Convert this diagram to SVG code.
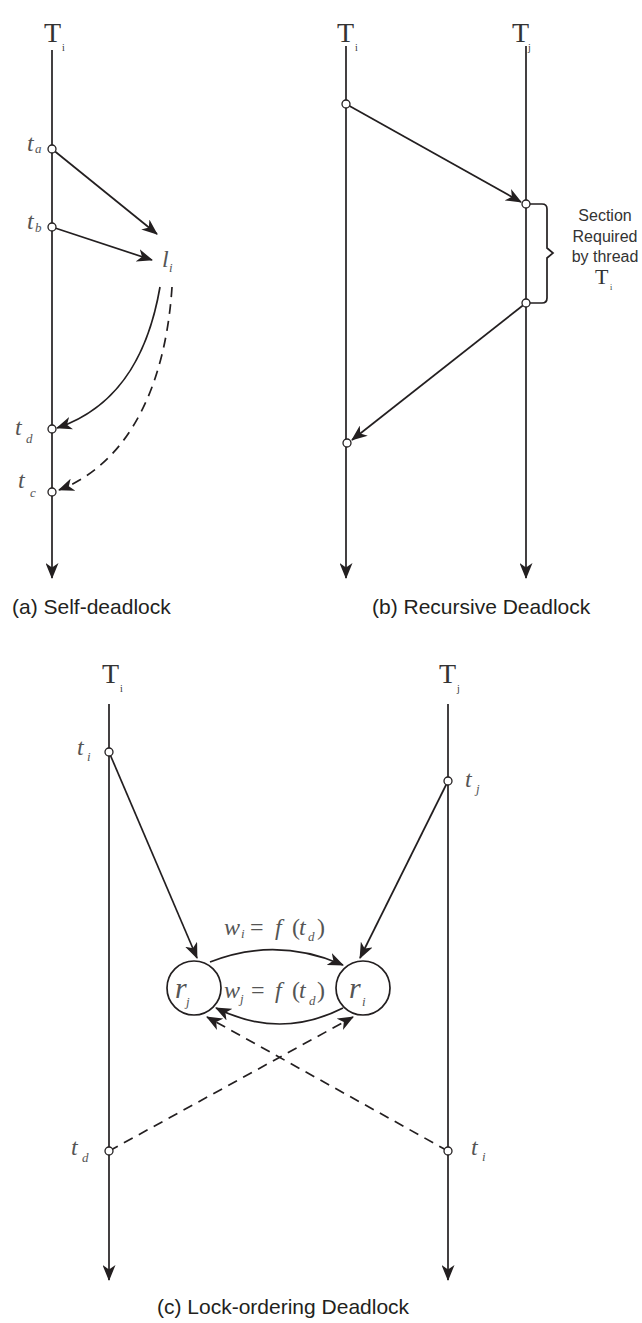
<svg xmlns="http://www.w3.org/2000/svg" width="642" height="1323" viewBox="0 0 642 1323">
<style>
.ln{fill:none;stroke:#231f20;stroke-width:1.7}
.ar{fill:none;stroke:#231f20;stroke-width:1.7;marker-end:url(#ah)}
.da{fill:none;stroke:#231f20;stroke-width:1.7;stroke-dasharray:10,7;marker-end:url(#ah)}
.pt{fill:#fff;stroke:#231f20;stroke-width:1.3}
.nd{fill:#fff;stroke:#231f20;stroke-width:1.7}
.cap{font-family:"Liberation Sans",Arial,sans-serif;font-size:21px;fill:#231f20}
.sec{font-family:"Liberation Sans",Arial,sans-serif;font-size:16px;fill:#333;text-anchor:middle}
.T{font-family:"Liberation Serif","Times New Roman",serif;font-size:28px;fill:#333}
.Ts{font-family:"Liberation Serif","Times New Roman",serif;font-size:10px;fill:#333}
.m{font-family:"Liberation Serif","Times New Roman",serif;font-style:italic;font-size:24px;fill:#555}
.ms{font-family:"Liberation Serif","Times New Roman",serif;font-style:italic;font-size:13px;fill:#555}
.mu{font-family:"Liberation Serif","Times New Roman",serif;font-size:24px;fill:#555}
</style>
<defs>
<marker id="ah" markerUnits="userSpaceOnUse" markerWidth="17" markerHeight="13" refX="15" refY="6.5" orient="auto">
<path d="M0,0 L16,6.5 L0,13 L4.5,6.5 z" fill="#231f20"/>
</marker>
</defs>

<g id="connectors">
<!-- (a) -->
<path class="ar" d="M52,50 L52,578"/>
<path class="ar" d="M52,149 L157,234"/>
<path class="ar" d="M52,227 L152,260"/>
<path class="ar" d="M160,287 C150,345 125,405 57,428"/>
<path class="da" d="M172,287 C166,380 132,462 59,490"/>
<!-- (b) -->
<path class="ar" d="M346,46 L346,578"/>
<path class="ar" d="M526,46 L526,578"/>
<path class="ar" d="M346,104 L521,202"/>
<path class="ar" d="M526,303 L352,440"/>
<path class="ln" d="M526,204 L542,204 Q547,204 547,209 L547,248 L553,253 L547,258 L547,298 Q547,303 542,303 L526,303" stroke-width="1.4"/>
<!-- (c) -->
<path class="ar" d="M109,704 L109,1280"/>
<path class="ar" d="M448,704 L448,1280"/>
<path class="ar" d="M109,752 L197,958"/>
<path class="ar" d="M448,781 L360,958"/>
<path class="ar" d="M210,962 Q276,936 343,965"/>
<path class="ar" d="M343,1008 Q280,1040 216,1008"/>
<path class="da" d="M109,1151 L353,1017"/>
<path class="da" d="M448,1151 L207,1017"/>
</g>

<g id="panel-a">
<text class="T" x="44" y="42">T</text><text class="Ts" x="62" y="51">i</text>
<circle class="pt" cx="52" cy="149" r="4"/>
<circle class="pt" cx="52" cy="227" r="4"/>
<circle class="pt" cx="52" cy="429" r="4"/>
<circle class="pt" cx="52" cy="492" r="4"/>
<text class="m" x="27" y="151">t</text><text class="ms" x="35" y="153">a</text>
<text class="m" x="27" y="229">t</text><text class="ms" x="35" y="232">b</text>
<text class="m" x="162" y="267">l</text><text class="ms" x="169" y="272">i</text>
<text class="m" x="15" y="435">t</text><text class="ms" x="26" y="443">d</text>
<text class="m" x="18" y="488">t</text><text class="ms" x="30" y="497">c</text>
<text class="cap" x="12" y="614">(a) Self-deadlock</text>
</g>

<g id="panel-b">
<text class="T" x="337" y="42">T</text><text class="Ts" x="355" y="51">i</text>
<text class="T" x="512" y="42">T</text><text class="Ts" x="528" y="51">j</text>
<circle class="pt" cx="346" cy="104" r="4"/>
<circle class="pt" cx="526" cy="204" r="4"/>
<circle class="pt" cx="526" cy="303" r="4"/>
<circle class="pt" cx="347" cy="443" r="4"/>
<text class="sec" x="605" y="221">Section</text>
<text class="sec" x="605" y="242">Required</text>
<text class="sec" x="605" y="262">by thread</text>
<text class="T" x="595" y="284" style="font-size:22px">T</text><text class="Ts" x="610" y="290" style="font-size:8px">i</text>
<text class="cap" x="372" y="614">(b) Recursive Deadlock</text>
</g>

<g id="panel-c">
<text class="T" x="102" y="683">T</text><text class="Ts" x="120" y="692">i</text>
<text class="T" x="439" y="683">T</text><text class="Ts" x="457" y="692">j</text>
<circle class="pt" cx="109" cy="752" r="4"/>
<circle class="pt" cx="448" cy="781" r="4"/>
<circle class="pt" cx="109" cy="1151" r="4"/>
<circle class="pt" cx="448" cy="1151" r="4"/>
<text class="m" x="77" y="755">t</text><text class="ms" x="87" y="761">i</text>
<text class="m" x="465" y="787">t</text><text class="ms" x="476" y="793">j</text>
<text class="m" x="71" y="1155">t</text><text class="ms" x="82" y="1162">d</text>
<text class="m" x="471" y="1155">t</text><text class="ms" x="482" y="1161">i</text>
<text class="cap" x="157" y="1314">(c) Lock-ordering Deadlock</text>
</g>

<g id="node-rj">
<circle class="nd" cx="194" cy="988" r="27"/>
<text class="m" x="175" y="998" style="font-size:30px">r</text><text class="ms" x="186" y="1006">j</text>
</g>
<g id="node-ri">
<circle class="nd" cx="363" cy="988" r="27"/>
<text class="m" x="349" y="998" style="font-size:30px">r</text><text class="ms" x="362" y="1006">i</text>
</g>

<g id="label-wi">
<text class="m" x="224" y="935">w</text><text class="ms" x="241" y="938">i</text>
<text class="mu" x="250" y="935">=</text>
<text class="m" x="275" y="935">f</text>
<text class="mu" x="292" y="935">(</text>
<text class="m" x="299" y="935">t</text><text class="ms" x="308" y="941">d</text>
<text class="mu" x="317" y="935">)</text>
</g>
<g id="label-wj">
<text class="m" x="224" y="998">w</text><text class="ms" x="240" y="1003">j</text>
<text class="mu" x="251" y="998">=</text>
<text class="m" x="275" y="998">f</text>
<text class="mu" x="292" y="998">(</text>
<text class="m" x="299" y="998">t</text><text class="ms" x="309" y="1005">d</text>
<text class="mu" x="317" y="998">)</text>
</g>
</svg>
